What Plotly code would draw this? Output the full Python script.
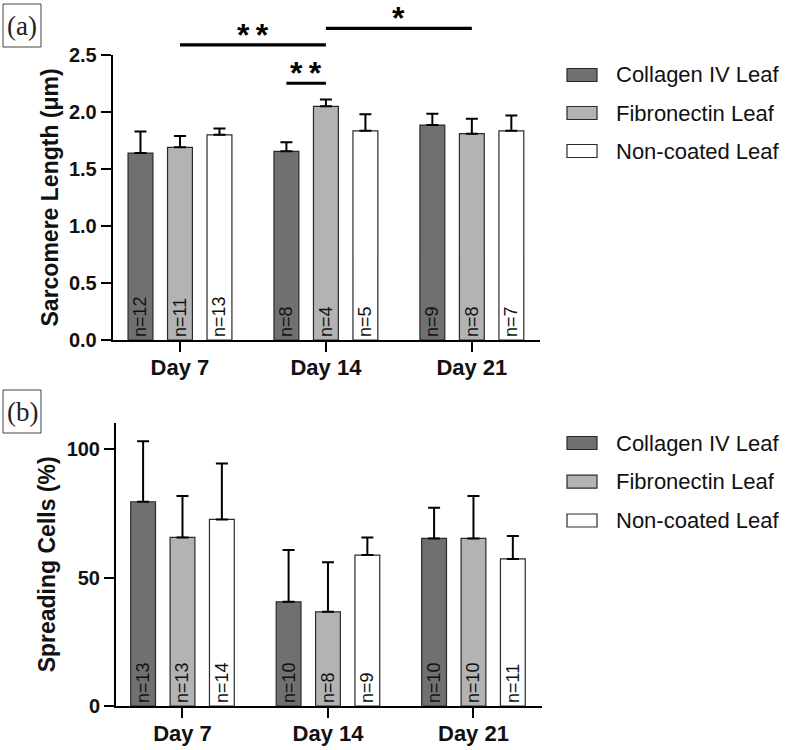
import plotly.graph_objects as go

# ---------------- data ----------------
days = ["Day 7", "Day 14", "Day 21"]
series_names = ["Collagen IV Leaf", "Fibronectin Leaf", "Non-coated Leaf"]

# (a) Sarcomere length (um): mean and upper SD
sarc_collagen = [1.64, 1.655, 1.885]
sarc_collagen_sd = [0.19, 0.08, 0.10]
sarc_fibronectin = [1.69, 2.05, 1.81]
sarc_fibronectin_sd = [0.10, 0.06, 0.13]
sarc_noncoated = [1.80, 1.835, 1.835]
sarc_noncoated_sd = [0.055, 0.145, 0.135]
sarc_n_collagen = [12, 8, 9]
sarc_n_fibronectin = [11, 4, 8]
sarc_n_noncoated = [13, 5, 7]

# (b) Spreading cells (%): mean and upper SD
spread_collagen = [79.6, 40.6, 65.3]
spread_collagen_sd = [23.6, 20.2, 12.0]
spread_fibronectin = [65.7, 36.7, 65.3]
spread_fibronectin_sd = [16.1, 19.3, 16.5]
spread_noncoated = [72.7, 58.8, 57.3]
spread_noncoated_sd = [21.8, 6.9, 8.9]
spread_n_collagen = [13, 10, 10]
spread_n_fibronectin = [13, 8, 10]
spread_n_noncoated = [14, 9, 11]

# significance brackets in panel (a): (day index, series index) endpoints
sig_labels = ["*\u2009*", "*\u2009*", "*"]
sig_start = [(0, 1), (1, 0), (1, 1)]
sig_end = [(1, 1), (1, 1), (2, 1)]
sig_level = [2.588, 2.252, 2.734]

# ---------------- styling ----------------
W, H = 789, 750
FONT = "Liberation Sans, Arial, sans-serif"
bar_colors = ["#707070", "#b3b3b3", "#ffffff"]
BARGAP = 0.188
BARGROUPGAP = 0.37
slot = (1 - BARGAP) / 3


def px(x):
    return x / W


def py(y):
    return 1 - y / H


fig = go.Figure()

panel_a = [(sarc_collagen, sarc_collagen_sd, sarc_n_collagen),
           (sarc_fibronectin, sarc_fibronectin_sd, sarc_n_fibronectin),
           (sarc_noncoated, sarc_noncoated_sd, sarc_n_noncoated)]
panel_b = [(spread_collagen, spread_collagen_sd, spread_n_collagen),
           (spread_fibronectin, spread_fibronectin_sd, spread_n_fibronectin),
           (spread_noncoated, spread_noncoated_sd, spread_n_noncoated)]

for axes, data in ((("x", "y"), panel_a), (("x2", "y2"), panel_b)):
    for i, (vals, sd, n) in enumerate(data):
        fig.add_trace(go.Bar(
            x=days, y=vals, name=series_names[i], xaxis=axes[0], yaxis=axes[1],
            marker=dict(color=bar_colors[i], line=dict(color="#2a2a2a", width=1.2)),
            error_y=dict(type="data", symmetric=False, array=sd,
                         arrayminus=[0] * len(sd), color="black",
                         thickness=2, width=6),
            text=[f"n={k}" for k in n],
            textposition="inside", insidetextanchor="start", textangle=-90,
            constraintext="none",
            insidetextfont=dict(family=FONT, size=18, color="#111111"),
            showlegend=False, hoverinfo="skip",
        ))

# significance bracket lines on overlay axis x3/y3
for lab, s, e, lev in zip(sig_labels, sig_start, sig_end, sig_level):
    x0 = s[0] + (s[1] - 1) * slot
    x1 = e[0] + (e[1] - 1) * slot
    fig.add_trace(go.Scatter(x=[x0, x1], y=[lev, lev], mode="lines",
                             line=dict(color="black", width=3.2),
                             xaxis="x3", yaxis="y3", showlegend=False,
                             hoverinfo="skip"))
    fig.add_annotation(x=(x0 + x1) / 2, y=lev, xref="x3", yref="y3",
                       text=lab, showarrow=False, yanchor="middle", yshift=10,
                       font=dict(family=FONT, size=32, color="black", weight="bold"))

# ---------------- axes ----------------
xa_dom = [px(112.7), px(540)]
xb_dom = [px(116), px(541.7)]
ya_dom = [py(340), py(55)]
yb_dom = [py(706), py(422.7)]

common_x = dict(showline=True, linewidth=2, linecolor="black", ticks="outside",
                ticklen=10, tickwidth=2, tickcolor="black", showgrid=False,
                zeroline=False, type="category", automargin=False,
                ticklabelstandoff=-3,
                tickfont=dict(family=FONT, size=22, color="#111111", weight="bold"))
common_y = dict(showline=True, linewidth=2, linecolor="black", ticks="outside",
                ticklen=10, tickwidth=2, tickcolor="black", showgrid=False,
                zeroline=False, automargin=False,
                tickfont=dict(family=FONT, size=20, color="#111111", weight="bold"))

fig.update_layout(
    width=W, height=H, margin=dict(l=0, r=0, t=0, b=0, autoexpand=False),
    paper_bgcolor="white", plot_bgcolor="rgba(0,0,0,0)",
    barmode="group", bargap=BARGAP, bargroupgap=BARGROUPGAP,
    xaxis=dict(domain=xa_dom, range=[-0.461, 2.467], anchor="y", **common_x),
    yaxis=dict(domain=ya_dom, range=[0, 2.5], anchor="x", tickvals=[0, 0.5, 1, 1.5, 2, 2.5],
               tickformat=".1f", **common_y),
    xaxis2=dict(domain=xb_dom, range=[-0.457, 2.469], anchor="y2", **common_x),
    yaxis2=dict(domain=yb_dom, range=[0, 110.4], anchor="x2", tickvals=[0, 50, 100],
                **common_y),
    xaxis3=dict(domain=xa_dom, range=[-0.461, 2.467], anchor="y3", visible=False,
                automargin=False),
    yaxis3=dict(domain=[py(340), 1], range=[0, 340 / 114], anchor="x3", visible=False,
                automargin=False),
)

# axis titles
fig.add_annotation(x=px(49), y=(ya_dom[0] + ya_dom[1]) / 2, xref="paper", yref="paper",
                   text="Sarcomere Length (μm)", textangle=-90, showarrow=False,
                   xanchor="center", yanchor="middle",
                   font=dict(family=FONT, size=23, color="#111111", weight="bold"))
fig.add_annotation(x=px(47), y=(yb_dom[0] + yb_dom[1]) / 2, xref="paper", yref="paper",
                   text="Spreading Cells (%)", textangle=-90, showarrow=False,
                   xanchor="center", yanchor="middle",
                   font=dict(family=FONT, size=23, color="#111111", weight="bold"))

# panel labels
for lab, top in (("(a)", 4), ("(b)", 390)):
    fig.add_shape(type="rect", xref="paper", yref="paper",
                  x0=px(3), x1=px(41), y0=py(top + 43), y1=py(top),
                  line=dict(color="#444444", width=1))
    fig.add_annotation(x=px(22), y=py(top + 21.5), xref="paper", yref="paper",
                       text=lab, showarrow=False, xanchor="center", yanchor="middle",
                       font=dict(family="Liberation Serif, Times New Roman, serif",
                                 size=27, color="#222222"))

# legends (one per panel)
for rows in ([75, 113, 151], [443, 481.7, 520.5]):
    for name, col, yc in zip(series_names, bar_colors, rows):
        fig.add_shape(type="rect", xref="paper", yref="paper",
                      x0=px(567), x1=px(597), y0=py(yc + 6.5), y1=py(yc - 6.5),
                      fillcolor=col, line=dict(color="#2a2a2a", width=1.2))
        fig.add_annotation(x=px(614), y=py(yc), xref="paper", yref="paper",
                           text=name, showarrow=False, xanchor="left", yanchor="middle",
                           font=dict(family=FONT, size=22, color="#111111"))

fig.write_html("out.html", config={"displayModeBar": False},
               post_script="document.body.style.margin='0px';")
